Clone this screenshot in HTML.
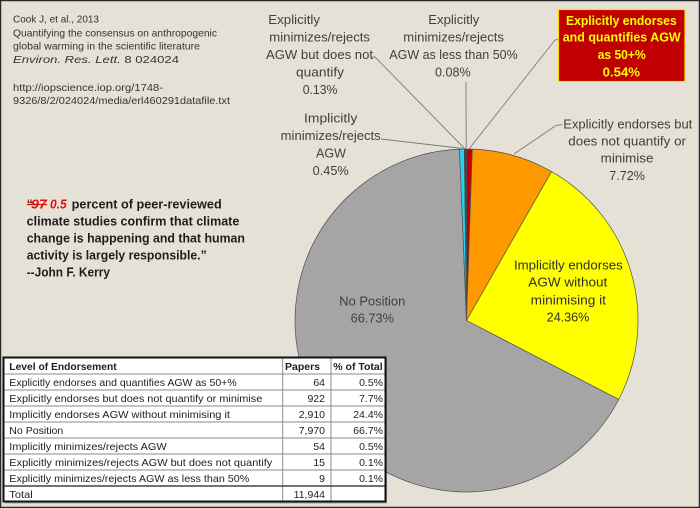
<!DOCTYPE html>
<html>
<head>
<meta charset="utf-8">
<style>
  html,body{margin:0;padding:0;background:#e6e1d7;}
  svg{display:block;}
  text{font-family:"Liberation Sans",Arial,sans-serif;}
</style>
</head>
<body>
<svg width="700" height="508" viewBox="0 0 700 508" xmlns="http://www.w3.org/2000/svg">
  <rect x="0" y="0" width="700" height="508" fill="#e6e1d7"/>

  <!-- Pie -->
  <g stroke="#505050" stroke-width="0.7" stroke-linejoin="round">
    <path d="M466.5,320.5 L466.5,149 A171.5,171.5 0 0 1 472.32,149.1 Z" fill="#c00000"/>
    <path d="M466.5,320.5 L472.32,149.1 A171.5,171.5 0 0 1 551.57,171.58 Z" fill="#ff9900"/>
    <path d="M466.5,320.5 L551.57,171.58 A171.5,171.5 0 0 1 618.73,399.49 Z" fill="#ffff00"/>
    <path d="M466.5,320.5 L618.73,399.49 A171.5,171.5 0 1 1 459.5,149.14 Z" fill="#a5a5a5"/>
    <path d="M466.5,320.5 L459.5,149.14 A171.5,171.5 0 0 1 464.35,149.01 Z" fill="#22d4f0"/>
    <path d="M466.5,320.5 L464.35,149.01 A171.5,171.5 0 0 1 465.75,149 Z" fill="#0b2a6b"/>
    <path d="M466.5,320.5 L465.75,149 A171.5,171.5 0 0 1 466.5,149 Z" fill="#111"/>
  </g>

  <!-- Leader lines -->
  <g stroke="#7a7a7a" stroke-width="0.9" fill="none">
    <polyline points="372,57 375,57 465,149"/>
    <line x1="466" y1="82" x2="466.2" y2="149"/>
    <line x1="381" y1="139" x2="463" y2="148.5"/>
    <polyline points="558,39.5 555,40 469,149"/>
    <polyline points="562,124.5 556,125.5 514,154"/>
  </g>

  <!-- Top-left citation -->
  <g font-size="10.5" fill="#333">
    <text x="13" y="22.7" textLength="86" lengthAdjust="spacingAndGlyphs">Cook J, et al., 2013</text>
    <text x="13" y="36.5" textLength="204" lengthAdjust="spacingAndGlyphs">Quantifying the consensus on anthropogenic</text>
    <text x="13" y="49.5" textLength="187" lengthAdjust="spacingAndGlyphs">global warming in the scientific literature</text>
    <text x="13" y="63" textLength="166" lengthAdjust="spacingAndGlyphs"><tspan font-style="italic">Environ. Res. Lett.</tspan> 8 024024</text>
    <text x="13" y="91" textLength="150" lengthAdjust="spacingAndGlyphs">http://iopscience.iop.org/1748-</text>
    <text x="13" y="104" textLength="217" lengthAdjust="spacingAndGlyphs">9326/8/2/024024/media/erl460291datafile.txt</text>
  </g>

  <!-- Quote -->
  <g font-size="12.5" font-weight="bold" fill="#1e1e1e">
    <text x="26.7" y="208.5" fill="#8a1010">“</text>
    <text x="31" y="208.5" textLength="15.7" lengthAdjust="spacingAndGlyphs" fill="#e01010" font-style="italic">97</text>
    <line x1="27" y1="204.5" x2="47" y2="204.5" stroke="#e01010" stroke-width="1.3"/>
    <text x="50" y="208.5" textLength="16.7" lengthAdjust="spacingAndGlyphs" fill="#e01010" font-style="italic">0.5</text>
    <text x="71.7" y="208.5" textLength="150" lengthAdjust="spacingAndGlyphs">percent of peer-reviewed</text>
    <text x="26.7" y="225.5" textLength="212.6" lengthAdjust="spacingAndGlyphs">climate studies confirm that climate</text>
    <text x="26.7" y="242.5" textLength="218.3" lengthAdjust="spacingAndGlyphs">change is happening and that human</text>
    <text x="26.7" y="259.5" textLength="180" lengthAdjust="spacingAndGlyphs">activity is largely responsible.”</text>
    <text x="26.7" y="276.5" textLength="83.3" lengthAdjust="spacingAndGlyphs">--John F. Kerry</text>
  </g>

  <!-- Labels -->
  <g font-size="12.5" fill="#404040">
    <text x="268.3" y="24" textLength="51.7" lengthAdjust="spacingAndGlyphs">Explicitly</text>
    <text x="269.3" y="41.5" textLength="100.7" lengthAdjust="spacingAndGlyphs">minimizes/rejects</text>
    <text x="266" y="59" textLength="107" lengthAdjust="spacingAndGlyphs">AGW but does not</text>
    <text x="296" y="76.5" textLength="48" lengthAdjust="spacingAndGlyphs">quantify</text>
    <text x="302.7" y="94" textLength="34.7" lengthAdjust="spacingAndGlyphs">0.13%</text>

    <text x="428.3" y="24" textLength="51" lengthAdjust="spacingAndGlyphs">Explicitly</text>
    <text x="403.3" y="41.5" textLength="100.7" lengthAdjust="spacingAndGlyphs">minimizes/rejects</text>
    <text x="389.3" y="59" textLength="128.4" lengthAdjust="spacingAndGlyphs">AGW as less than 50%</text>
    <text x="435" y="76.5" textLength="35.7" lengthAdjust="spacingAndGlyphs">0.08%</text>

    <text x="304" y="122.7" textLength="53.3" lengthAdjust="spacingAndGlyphs">Implicitly</text>
    <text x="280.7" y="140" textLength="100" lengthAdjust="spacingAndGlyphs">minimizes/rejects</text>
    <text x="316" y="157.3" textLength="30" lengthAdjust="spacingAndGlyphs">AGW</text>
    <text x="312.7" y="175" textLength="36" lengthAdjust="spacingAndGlyphs">0.45%</text>

    <text x="563.3" y="128.3" textLength="129" lengthAdjust="spacingAndGlyphs">Explicitly endorses but</text>
    <text x="568.3" y="145.7" textLength="117.7" lengthAdjust="spacingAndGlyphs">does not quantify or</text>
    <text x="600.7" y="162.7" textLength="52.7" lengthAdjust="spacingAndGlyphs">minimise</text>
    <text x="609.3" y="180" textLength="35.7" lengthAdjust="spacingAndGlyphs">7.72%</text>

    <text x="339.3" y="305.3" textLength="66" lengthAdjust="spacingAndGlyphs">No Position</text>
    <text x="350.7" y="322.7" textLength="43.3" lengthAdjust="spacingAndGlyphs">66.73%</text>
  </g>
  <g font-size="12.5" fill="#303030">
    <text x="514" y="269.3" textLength="108.7" lengthAdjust="spacingAndGlyphs">Implicitly endorses</text>
    <text x="528.3" y="286.7" textLength="79" lengthAdjust="spacingAndGlyphs">AGW without</text>
    <text x="530.7" y="304.3" textLength="75.3" lengthAdjust="spacingAndGlyphs">minimising it</text>
    <text x="546.7" y="321.7" textLength="42.7" lengthAdjust="spacingAndGlyphs">24.36%</text>
  </g>

  <!-- Red box -->
  <rect x="558.5" y="9.5" width="126.5" height="72" fill="#c00000" stroke="#ffe000" stroke-width="1.2"/>
  <g font-size="13" font-weight="bold" fill="#ffff00">
    <text x="566" y="25" textLength="110.7" lengthAdjust="spacingAndGlyphs">Explicitly endorses</text>
    <text x="562.7" y="41.7" textLength="118" lengthAdjust="spacingAndGlyphs">and quantifies AGW</text>
    <text x="597.7" y="59" textLength="48" lengthAdjust="spacingAndGlyphs">as 50+%</text>
    <text x="602.7" y="76.7" textLength="37.3" lengthAdjust="spacingAndGlyphs">0.54%</text>
  </g>

  <!-- Table -->
  <rect x="5" y="359.5" width="382" height="144" fill="#6a6a6a" opacity="0.5"/>
  <rect x="3.5" y="357.5" width="382" height="144" fill="#ffffff" stroke="#111" stroke-width="2"/>
  <g stroke="#8a8a8a" stroke-width="1">
    <line x1="4.5" y1="374" x2="384.5" y2="374"/>
    <line x1="4.5" y1="390" x2="384.5" y2="390"/>
    <line x1="4.5" y1="406" x2="384.5" y2="406"/>
    <line x1="4.5" y1="422" x2="384.5" y2="422"/>
    <line x1="4.5" y1="438" x2="384.5" y2="438"/>
    <line x1="4.5" y1="454" x2="384.5" y2="454"/>
    <line x1="4.5" y1="470" x2="384.5" y2="470"/>
    <line x1="282.7" y1="358.5" x2="282.7" y2="500.5"/>
    <line x1="331" y1="358.5" x2="331" y2="500.5"/>
  </g>
  <line x1="4.5" y1="486" x2="384.5" y2="486" stroke="#444" stroke-width="1.5"/>
  <g font-size="10.5" fill="#1e1e1e">
    <text x="9.3" y="370" font-weight="bold" textLength="107.4" lengthAdjust="spacingAndGlyphs">Level of Endorsement</text>
    <text x="285" y="370" font-weight="bold" textLength="35" lengthAdjust="spacingAndGlyphs">Papers</text>
    <text x="333.3" y="370" font-weight="bold" textLength="49.4" lengthAdjust="spacingAndGlyphs">% of Total</text>

    <text x="9.3" y="386" textLength="227.4" lengthAdjust="spacingAndGlyphs">Explicitly endorses and quantifies AGW as 50+%</text>
    <text x="9.3" y="402" textLength="253" lengthAdjust="spacingAndGlyphs">Explicitly endorses but does not quantify or minimise</text>
    <text x="9.3" y="418" textLength="220.7" lengthAdjust="spacingAndGlyphs">Implicitly endorses AGW without minimising it</text>
    <text x="9.3" y="434" textLength="54" lengthAdjust="spacingAndGlyphs">No Position</text>
    <text x="9.3" y="450" textLength="157.4" lengthAdjust="spacingAndGlyphs">Implicitly minimizes/rejects AGW</text>
    <text x="9.3" y="466" textLength="263" lengthAdjust="spacingAndGlyphs">Explicitly minimizes/rejects AGW but does not quantify</text>
    <text x="9.3" y="482" textLength="240" lengthAdjust="spacingAndGlyphs">Explicitly minimizes/rejects AGW as less than 50%</text>
    <text x="9.3" y="498" textLength="23.4" lengthAdjust="spacingAndGlyphs">Total</text>

    <g text-anchor="end">
      <text x="325" y="386">64</text>
      <text x="325" y="402">922</text>
      <text x="325" y="418">2,910</text>
      <text x="325" y="434">7,970</text>
      <text x="325" y="450">54</text>
      <text x="325" y="466">15</text>
      <text x="325" y="482">9</text>
      <text x="325" y="498">11,944</text>
      <text x="383" y="386">0.5%</text>
      <text x="383" y="402">7.7%</text>
      <text x="383" y="418">24.4%</text>
      <text x="383" y="434">66.7%</text>
      <text x="383" y="450">0.5%</text>
      <text x="383" y="466">0.1%</text>
      <text x="383" y="482">0.1%</text>
    </g>
  </g>

  <!-- Outer frame -->
  <rect x="0.5" y="0.5" width="699" height="507" fill="none" stroke="#2a2a2a" stroke-width="1.5"/>
</svg>
</body>
</html>
